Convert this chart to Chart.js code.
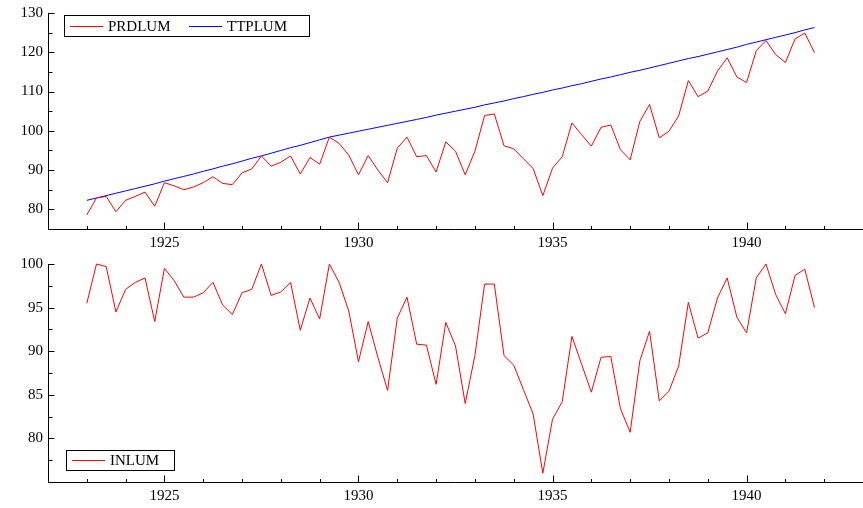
<!DOCTYPE html>
<html lang="en">
<head>
<meta charset="UTF-8">
<title>PRDLUM, TTPLUM, INLUM</title>
<script src="https://cdn.jsdelivr.net/npm/chart.js"></script>
<style>
  body { margin: 0; background: #fff; overflow: hidden; }
  .panel { width: 863px; height: 254px; }
  #topPanel { margin-top: -1px; }
  #bottomPanel { margin-top: -3px; }
</style>
</head>
<body>

<div class="panel" id="topPanel"><canvas id="topChart" width="863" height="254"></canvas></div>
<div class="panel" id="bottomPanel"><canvas id="bottomChart" width="863" height="254"></canvas></div>

<script>
  // quarterly series, 1923 Q1 .. 1941 Q4
  const startYear = 1923;

  const prdlum = [
    78.6, 82.9, 83.3, 79.4, 82.3, 83.3, 84.4, 80.8, 86.8, 86.0,
    85.0, 85.7, 86.8, 88.3, 86.6, 86.3, 89.3, 90.3, 93.6, 91.0,
    92.0, 93.6, 89.0, 93.2, 91.5, 98.4, 96.8, 93.8, 88.8, 93.7,
    90.0, 86.8, 95.6, 98.4, 93.4, 93.7, 89.5, 97.2, 94.8, 88.8,
    94.8, 103.9, 104.3, 96.2, 95.4, 92.9, 90.4, 83.5, 90.5, 93.4,
    102.0, 99.0, 96.1, 100.9, 101.5, 95.2, 92.6, 102.4, 106.7, 98.2,
    99.9, 103.8, 112.8, 108.7, 110.1, 115.2, 118.6, 113.7, 112.3, 120.4,
    123.0, 119.4, 117.4, 123.4, 124.9, 119.9
  ];

  const ttplum = [
    82.3, 82.9, 83.5, 84.1, 84.7, 85.3, 85.9, 86.5, 87.2, 87.8,
    88.4, 89.0, 89.7, 90.3, 91.0, 91.6, 92.3, 93.0, 93.6, 94.3,
    95.0, 95.7, 96.3, 97.0, 97.7, 98.4, 98.9, 99.4, 99.9, 100.4,
    100.9, 101.4, 101.9, 102.4, 102.9, 103.4, 104.0, 104.5, 105.0, 105.5,
    106.0, 106.6, 107.1, 107.6, 108.2, 108.7, 109.3, 109.8, 110.4, 110.9,
    111.5, 112.0, 112.6, 113.2, 113.7, 114.3, 114.9, 115.4, 116.0, 116.6,
    117.2, 117.8, 118.4, 118.9, 119.5, 120.1, 120.7, 121.3, 122.0, 122.6,
    123.2, 123.8, 124.4, 125.0, 125.7, 126.3
  ];

  const inlum = [
    95.5, 100.0, 99.7, 94.5, 97.1, 97.9, 98.4, 93.4, 99.5, 98.1,
    96.2, 96.2, 96.7, 97.9, 95.3, 94.2, 96.7, 97.1, 100.0, 96.4,
    96.8, 97.9, 92.4, 96.1, 93.7, 100.0, 97.9, 94.6, 88.8, 93.4,
    89.3, 85.5, 93.8, 96.2, 90.8, 90.7, 86.2, 93.3, 90.6, 84.0,
    89.5, 97.7, 97.7, 89.5, 88.4, 85.6, 82.8, 76.0, 82.2, 84.2,
    91.7, 88.5, 85.3, 89.3, 89.4, 83.4, 80.7, 88.9, 92.3, 84.3,
    85.4, 88.3, 95.6, 91.5, 92.1, 96.1, 98.4, 93.9, 92.1, 98.4,
    100.0, 96.5, 94.3, 98.7, 99.4, 95.0
  ];

  const yearTicks = [1925, 1930, 1935, 1940];
  const topTicks = [80, 90, 100, 110, 120, 130];
  const bottomTicks = [80, 85, 90, 95, 100];

  // decimal year of each quarter
  const quarters = prdlum.map((_, i) => startYear + Math.floor(i / 4) + (i % 4) / 4);
  const toPoints = arr => arr.map((v, i) => ({ x: quarters[i], y: v }));

  const FONT = { family: "'Liberation Serif', 'Times New Roman', serif", size: 15 };

  // axis lines, inward tick marks and the boxed legend
  const axesMarks = {
    id: 'axesMarks',
    afterDraw(chart, args, opts) {
      const { ctx, chartArea: a, scales: { x, y } } = chart;
      const left = Math.round(a.left) + 0.5;
      const bottom = Math.round(a.bottom) + 0.5;
      ctx.save();
      ctx.strokeStyle = '#000';
      ctx.lineWidth = 1;
      ctx.beginPath();
      ctx.moveTo(left, Math.round(a.top));
      ctx.lineTo(left, bottom);
      ctx.lineTo(Math.round(a.right), bottom);
      for (let yr = x.min; yr <= x.max; yr++) {
        const px = Math.round(x.getPixelForValue(yr)) + 0.5;
        const len = yearTicks.includes(yr) ? 7 : 3.5;
        ctx.moveTo(px, bottom);
        ctx.lineTo(px, bottom - len);
      }
      for (let v = y.min; v <= y.max; v += opts.minorStep) {
        const py = Math.round(y.getPixelForValue(v)) + 0.5;
        const len = opts.majors.includes(v) ? 6 : 4;
        ctx.moveTo(left, py);
        ctx.lineTo(left + len, py);
      }
      ctx.stroke();

      const lg = opts.legend;
      ctx.strokeRect(lg.x + 0.5, lg.y + 0.5, lg.w, lg.h);
      const cy = Math.round(lg.y + lg.h / 2) + 0.5;
      ctx.font = FONT.size + 'px ' + FONT.family;
      ctx.fillStyle = '#000';
      ctx.textBaseline = 'middle';
      lg.items.forEach(it => {
        ctx.strokeStyle = it.color;
        ctx.beginPath();
        ctx.moveTo(it.x1, cy);
        ctx.lineTo(it.x2, cy);
        ctx.stroke();
        ctx.fillText(it.label, it.tx, cy + 1);
      });
      ctx.restore();
    }
  };

  function makeOptions(cfg) {
    return {
      responsive: false,
      animation: false,
      devicePixelRatio: 1,
      layout: { padding: { top: cfg.padTop, left: 0, right: 0, bottom: 0 } },
      plugins: {
        legend: { display: false },
        tooltip: { enabled: false },
        axesMarks: { minorStep: cfg.minorStep, majors: cfg.yTicks, legend: cfg.legend }
      },
      scales: {
        x: {
          type: 'linear',
          min: 1922,
          max: 1943,
          afterBuildTicks: s => { s.ticks = yearTicks.map(v => ({ value: v })); },
          afterFit: s => { s.height = cfg.xHeight; },
          grid: { display: false, drawTicks: false },
          border: { display: false },
          ticks: {
            color: '#000', font: FONT, padding: 5, maxRotation: 0, autoSkip: false,
            callback: v => String(v)
          }
        },
        y: {
          min: cfg.yMin,
          max: cfg.yMax,
          afterBuildTicks: s => { s.ticks = cfg.yTicks.map(v => ({ value: v })); },
          afterFit: s => { s.width = 48; },
          grid: { display: false, drawTicks: false },
          border: { display: false },
          ticks: { color: '#000', font: FONT, padding: 5, callback: v => String(v) }
        }
      }
    };
  }

  // upper panel - PRDLUM and TTPLUM
  new Chart(document.getElementById('topChart'), {
    type: 'line',
    data: {
      datasets: [
        { label: 'PRDLUM', data: toPoints(prdlum), borderColor: '#ff0000', borderWidth: 1, pointRadius: 0, tension: 0, clip: false },
        { label: 'TTPLUM', data: toPoints(ttplum), borderColor: '#0000ff', borderWidth: 1, pointRadius: 0, tension: 0, clip: false }
      ]
    },
    options: makeOptions({
      yMin: 75, yMax: 130, yTicks: topTicks, minorStep: 5, padTop: 10, xHeight: 24,
      legend: {
        x: 64, y: 16, w: 245, h: 21,
        items: [
          { label: 'PRDLUM', color: '#ff0000', x1: 70, x2: 103, tx: 108 },
          { label: 'TTPLUM', color: '#0000ff', x1: 189, x2: 222, tx: 227 }
        ]
      }
    }),
    plugins: [axesMarks]
  });

  // lower panel - INLUM
  new Chart(document.getElementById('bottomChart'), {
    type: 'line',
    data: {
      datasets: [
        { label: 'INLUM', data: toPoints(inlum), borderColor: '#ff0000', borderWidth: 1, pointRadius: 0, tension: 0, clip: false },
      ]
    },
    options: makeOptions({
      yMin: 75, yMax: 100, yTicks: bottomTicks, minorStep: 2.5, padTop: 7, xHeight: 22,
      legend: {
        x: 66, y: 200, w: 108, h: 20,
        items: [
          { label: 'INLUM', color: '#ff0000', x1: 72, x2: 105, tx: 110 }
        ]
      }
    }),
    plugins: [axesMarks]
  });
</script>

</body>
</html>
